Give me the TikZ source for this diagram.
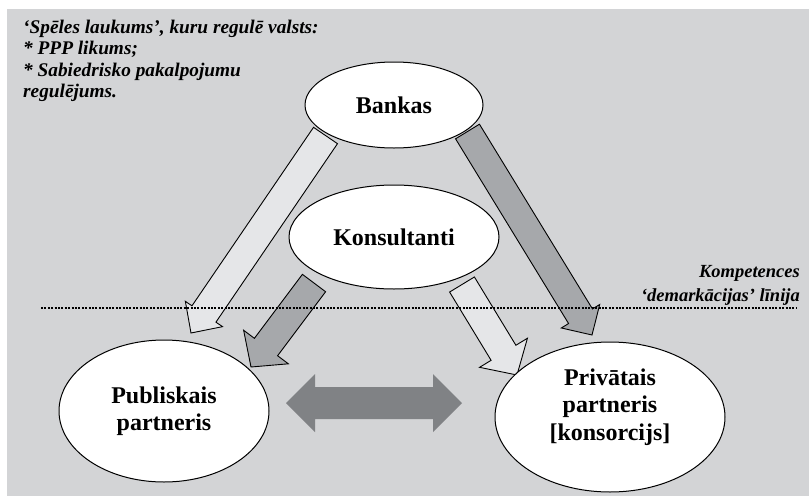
\documentclass[tikz,border=0pt]{standalone}
\usepackage{fontspec}
\setmainfont{Liberation Serif}
\usetikzlibrary{calc,shapes.geometric}
\definecolor{bgc}{HTML}{D3D4D6}
\definecolor{lightarr}{HTML}{E5E6E8}
\definecolor{darkarr}{HTML}{A6A8AB}
\definecolor{dblarr}{HTML}{808285}
\tikzset{
  ell/.style={ellipse, draw=black, line width=1pt, fill=white, inner sep=0pt, align=center,
    font=\fontsize{24}{27.5}\selectfont\bfseries},
  lightfill/.style={fill=lightarr, draw=black, line width=0.9pt, line join=miter},
  darkfill/.style={fill=darkarr, draw=black, line width=0.9pt, line join=miter},
  note/.style={inner sep=0pt, font=\fontsize{19.3}{21.3}\selectfont\bfseries\itshape},
}
% #1 tail, #2 tip, #3 shaft half width, #4 head half width, #5 head length, #6 style
\newcommand{\blockarr}[6]{%
  \path ($(#2)!#5!(#1)$) coordinate (hb);
  \draw[#6] ($(#1)!#3!90:(#2)$) -- ($(hb)!#3!90:(#2)$) -- ($(hb)!#4!90:(#2)$) -- (#2)
    -- ($(hb)!#4!-90:(#2)$) -- ($(hb)!#3!-90:(#2)$) -- ($(#1)!#3!-90:(#2)$) -- cycle;
}
\begin{document}
\begin{tikzpicture}[x=1pt,y=-1pt]
\useasboundingbox (0,0) rectangle (809,496);
\fill[bgc] (7,9) rectangle (809,496);

% arrow end points
\coordinate (sA) at (325.5,135.5); \coordinate (tA) at (191,333);
\coordinate (sB) at (467.5,131.5); \coordinate (tB) at (592,335);
\coordinate (sC) at (314,283);     \coordinate (tC) at (251,367);
\coordinate (sD) at (462,284.5);   \coordinate (tD) at (517,375);

\blockarr{sA}{tA}{14.5pt}{22.5pt}{23pt}{lightfill}
\blockarr{sB}{tB}{14pt}{22.5pt}{22pt}{darkfill}
\blockarr{sC}{tC}{14.5pt}{28pt}{25pt}{darkfill}
\blockarr{sD}{tD}{14.5pt}{28pt}{26pt}{lightfill}

% double arrow
\coordinate (dl) at (286,403); \coordinate (dr) at (462,403);
\fill[dblarr] (dl) -- ($(dl)+(29,-29)$) -- ($(dl)+(29,-16)$) -- ($(dr)+(-29,-16)$) -- ($(dr)+(-29,-29)$)
  -- (dr) -- ($(dr)+(-29,29)$) -- ($(dr)+(-29,16)$) -- ($(dl)+(29,16)$) -- ($(dl)+(29,29)$) -- cycle;

% dotted demarcation line
\coordinate (ls) at (41,308); \coordinate (le) at (797,308);
\draw[line width=2pt, dash pattern=on 2pt off 1.4pt] (ls) -- (le);

% ellipses
\node[ell, minimum width=178pt, minimum height=86pt] (bank) at (394,105) {Bankas};
\node[ell, minimum width=210pt, minimum height=104pt] (kons) at (394,237) {Konsultanti};
\node[ell, minimum width=210pt, minimum height=142pt] (publ) at (164,411) {Publiskais\\partneris};
\node[ell, minimum width=230pt, minimum height=150pt] (priv) at (610,417) {Privātais\\partneris\\{}[konsorcijs]\rule[-25pt]{0pt}{0pt}};

% notes
\node[note, anchor=north west, align=left] (regnote) at (23,20)
  {‘Spēles laukums’, kuru regulē valsts:\\* PPP likums;\\* Sabiedrisko pakalpojumu\\regulējums.};
\node[note, anchor=north east, align=right, font=\fontsize{18.5}{24}\selectfont\bfseries\itshape] (kompnote) at (800,265)
  {Kompetences\\‘demarkācijas’ līnija};
\end{tikzpicture}
\end{document}
